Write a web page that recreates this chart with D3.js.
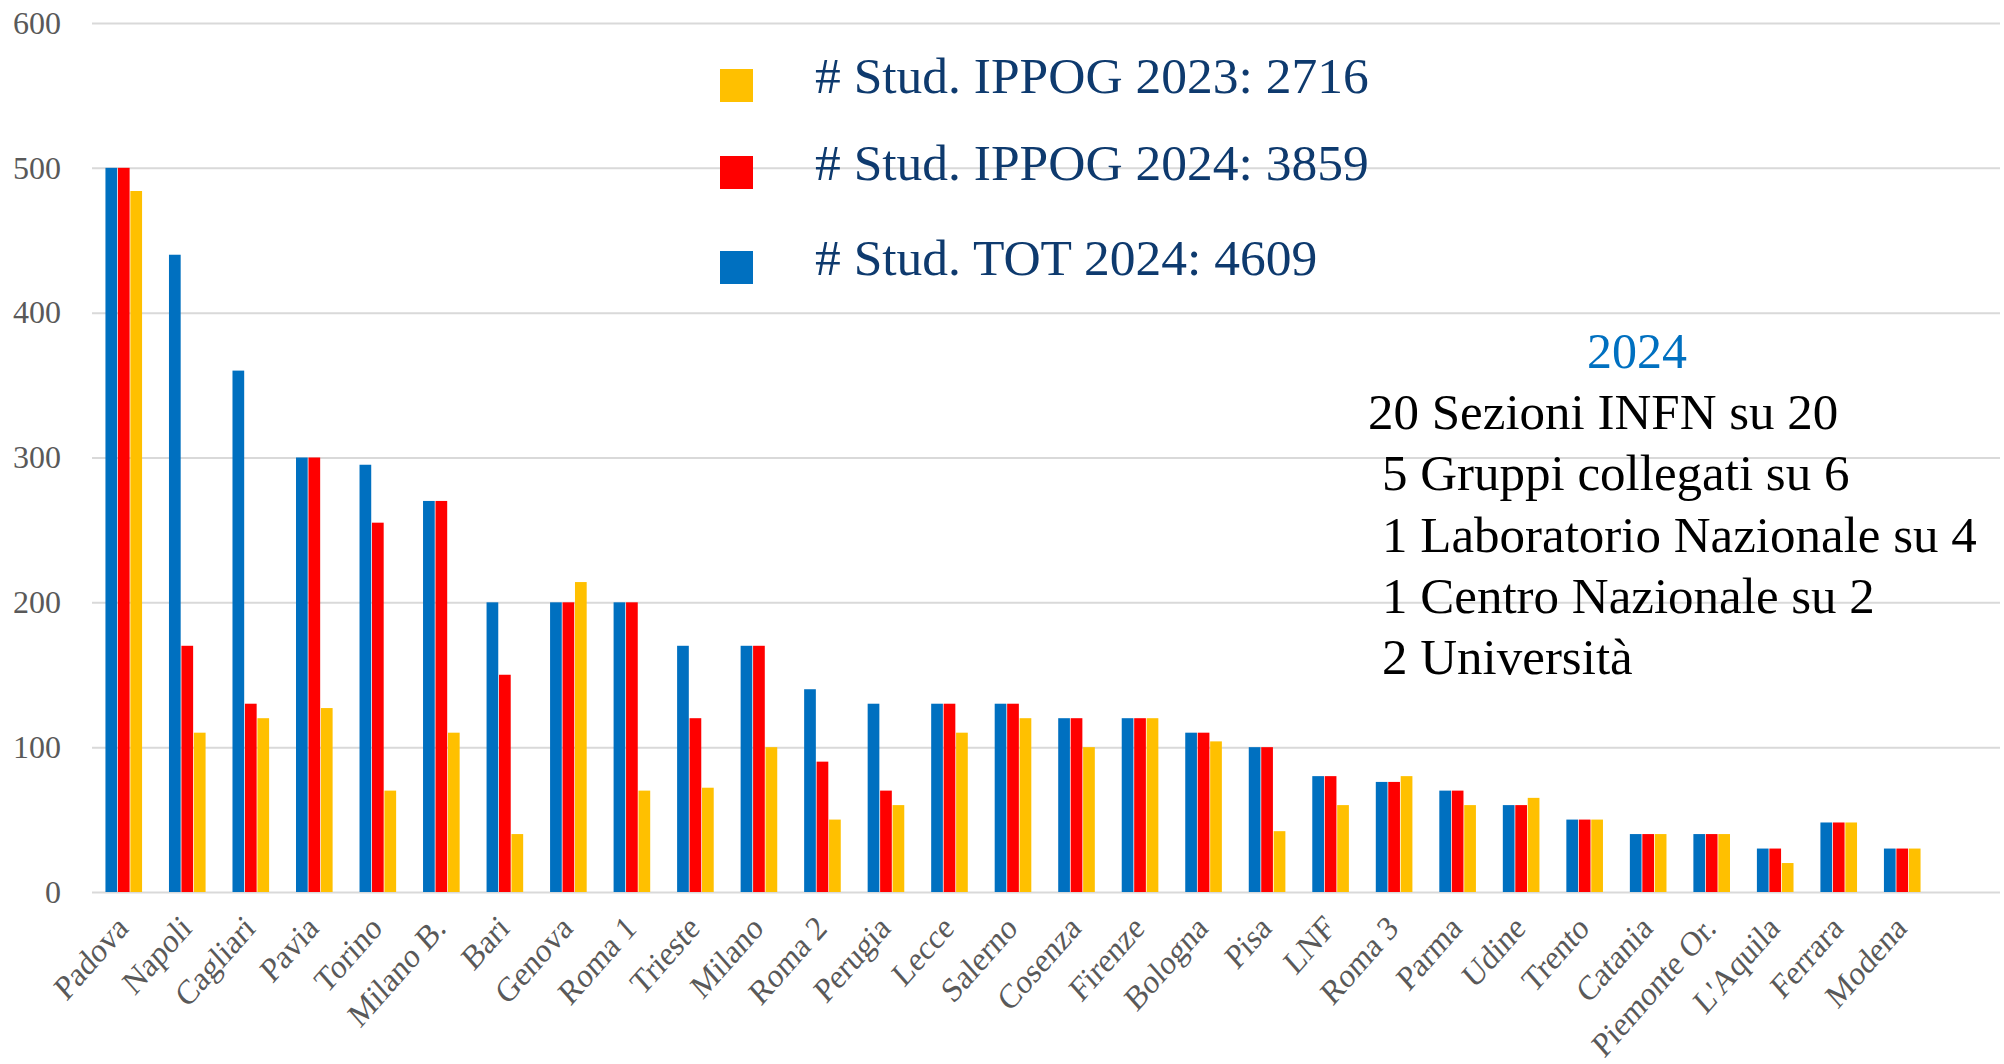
<!DOCTYPE html>
<html>
<head>
<meta charset="utf-8">
<script src="https://cdn.jsdelivr.net/npm/d3@7/dist/d3.min.js"></script>
<style>
	body { margin: 0; background: #fff; }
	svg { display: block; font-family: "Liberation Serif", "Times New Roman", serif; }
</style>
</head>
<body>
<svg id="chart" width="2004" height="1064"></svg>
<script>
var categories = ["Padova", "Napoli", "Cagliari", "Pavia", "Torino", "Milano B.", "Bari", "Genova", "Roma 1",
	"Trieste", "Milano", "Roma 2", "Perugia", "Lecce", "Salerno", "Cosenza", "Firenze", "Bologna", "Pisa",
	"LNF", "Roma 3", "Parma", "Udine", "Trento", "Catania", "Piemonte Or.", "L'Aquila", "Ferrara", "Modena"];
var tot2024 = [500, 440, 360, 300, 295, 270, 200, 200, 200, 170, 170, 140, 130, 130, 130, 120, 120, 110, 100,
	80, 76, 70, 60, 50, 40, 40, 30, 48, 30];
var ippog2024 = [500, 170, 130, 300, 255, 270, 150, 200, 200, 120, 170, 90, 70, 130, 130, 120, 120, 110, 100,
	80, 76, 70, 60, 50, 40, 40, 30, 48, 30];
var ippog2023 = [484, 110, 120, 127, 70, 110, 40, 214, 70, 72, 100, 50, 60, 110, 120, 100, 120, 104, 42,
	60, 80, 60, 65, 50, 40, 40, 20, 48, 30];
var yTicks = [0, 100, 200, 300, 400, 500, 600];

var seriesKeys = ["tot2024", "ippog2024", "ippog2023"];
var seriesColors = ["#0070C0", "#FF0000", "#FFC000"];
var legendLabels = ["# Stud. IPPOG 2023: ", "# Stud. IPPOG 2024: ", "# Stud. TOT 2024: "];
var noteTitle = "2024";
var noteLines = ["20 Sezioni INFN su 20", "5 Gruppi collegati su 6", "1 Laboratorio Nazionale su 4",
	"1 Centro Nazionale su 2", "2 Università"];

var rows = categories.map(function (c, i) {
	return { cat: c, tot2024: tot2024[i], ippog2024: ippog2024[i], ippog2023: ippog2023[i] };
});

var svg = d3.select('#chart');

var x = d3.scaleBand()
	.domain(categories)
	.range([92, 1934])
	.paddingInner(0.4)
	.paddingOuter(0.2);

var xs = d3.scaleBand()
	.domain(seriesKeys)
	.range([0, x.bandwidth()])
	.padding(0.06);

var y = d3.scaleLinear()
	.domain([0, 600])
	.range([892, 23]);

// gridlines + y labels
var yAxis = svg.append('g')
	.attr("transform", "translate(92,0)")
	.call(d3.axisLeft(y).tickValues(yTicks).tickSizeInner(-1908).tickSizeOuter(0).tickPadding(31));
yAxis.select('.domain').remove();
yAxis.selectAll('line').attr("stroke", "#D9D9D9").attr("stroke-width", 2);
yAxis.selectAll('text')
	.attr("fill", "#595959")
	.style("font-size", "32px")
	.style("font-family", "Liberation Serif, serif");

var groups = svg.append('g').selectAll('g')
	.data(rows)
	.enter()
	.append('g')
	.attr("transform", function (d) { return "translate(" + x(d.cat) + ",0)"; });

groups.selectAll('rect')
	.data(function (d) { return seriesKeys.map(function (k) { return { key: k, value: d[k] }; }); })
	.enter()
	.append('rect')
	.attr("x", function (d) { return xs(d.key); })
	.attr("width", xs.bandwidth())
	.attr("y", function (d) { return y(d.value); })
	.attr("height", function (d) { return y(0) - y(d.value); })
	.attr("fill", function (d, i) { return seriesColors[i]; });

// category labels (a bit steeper than 45, like the stretched original)
var xAxis = svg.append('g')
	.attr("transform", "translate(0,892)")
	.call(d3.axisBottom(x).tickSize(0));
xAxis.select('.domain').remove();
xAxis.selectAll('text')
	.attr("x", 0)
	.attr("y", 0)
	.attr("dy", 0)
	.attr("text-anchor", "end")
	.attr("transform", "translate(6,38) scale(0.95,1.08) rotate(-45)")
	.attr("fill", "#595959")
	.style("font-size", "32px")
	.style("font-family", "Liberation Serif, serif");

// legend
var legendSeries = [ippog2023, ippog2024, tot2024];
var legendColors = ["#FFC000", "#FF0000", "#0070C0"];
var legendY = [93, 180, 275];

var legend = svg.append('g').selectAll('g')
	.data(legendLabels)
	.enter()
	.append('g');

legend.append('rect')
	.attr("x", 720)
	.attr("y", function (d, i) { return legendY[i] - 24; })
	.attr("width", 33)
	.attr("height", 33)
	.attr("fill", function (d, i) { return legendColors[i]; });

legend.append('text')
	.attr("x", 815)
	.attr("y", function (d, i) { return legendY[i]; })
	.attr("fill", "#0E3A6E")
	.style("font-size", "51.5px")
	.text(function (d, i) { return d + d3.sum(legendSeries[i]); });

// note box
svg.append('text')
	.attr("x", 1637)
	.attr("y", 368)
	.attr("text-anchor", "middle")
	.attr("fill", "#0070C0")
	.style("font-size", "50px")
	.text(noteTitle);

svg.append('g').selectAll('text')
	.data(noteLines)
	.enter()
	.append('text')
	.attr("x", function (d, i) { return i == 0 ? 1368 : 1382; })
	.attr("y", function (d, i) { return 429 + i * 61.3; })
	.attr("fill", "#000")
	.style("font-size", "51px")
	.text(function (d) { return d; });
</script>
</body>
</html>
